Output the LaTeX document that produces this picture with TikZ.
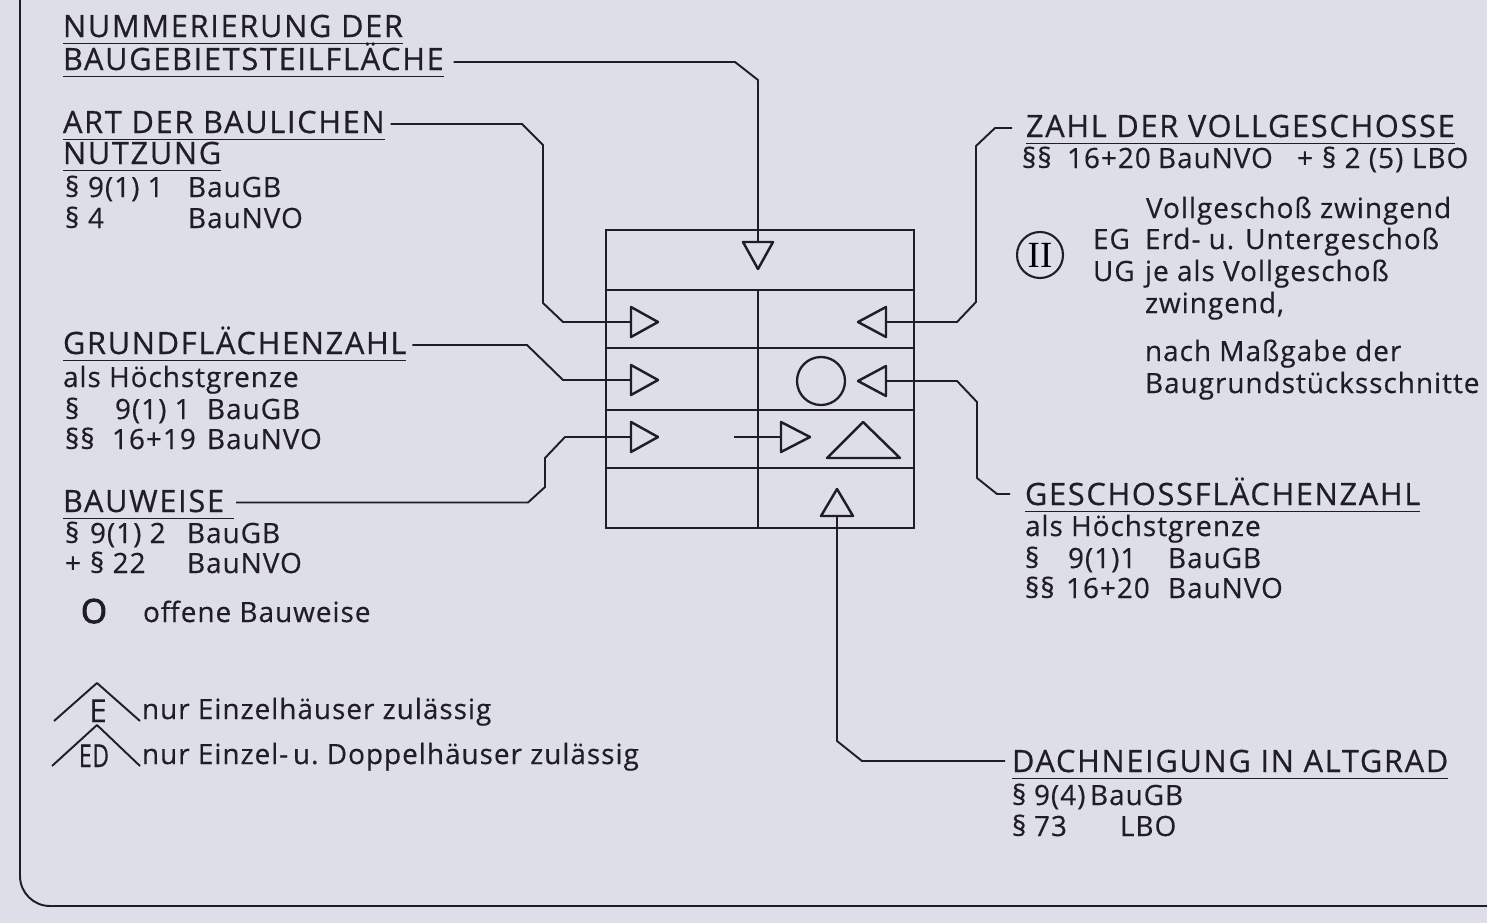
\documentclass[tikz,border=0pt]{standalone}
\usepackage{fontspec}
\setmainfont{Open Sans}[LetterSpace=3.5,FakeBold=0.4]
\newfontfamily\hfont{Open Sans}[LetterSpace=5.5,FakeBold=0.6]
\newfontfamily\oboldfont{Open Sans}[FakeBold=3]
\newfontfamily\romfont{Liberation Serif}
\definecolor{paper}{RGB}{222,222,232}
\definecolor{ink}{RGB}{30,30,36}
\newcommand\myul[1]{\draw[uline] ([yshift=-3.8pt]#1.base west) -- ([yshift=-3.8pt]#1.base east);}
\begin{document}
\begin{tikzpicture}[x=0.02cm,y=-0.02cm,
  txt/.style={anchor=base west,inner sep=0pt,outer sep=0pt,text=ink,font=\fontsize{15.9}{19}\selectfont},
  head/.style={txt,font=\fontsize{17.5}{20}\selectfont\hfont},
  conn/.style={draw=ink,line width=1.1pt,line join=round},
  boxline/.style={draw=ink,line width=1.6pt},
  tri/.style={draw=ink,line width=1.4pt,line join=round,fill=paper},
  uline/.style={draw=ink,line width=0.9pt}]
\fill[paper] (0,0) rectangle (1487,923);
\useasboundingbox (0,0) rectangle (1487,923);
% sheet border
\draw[ink,line width=1.1pt,rounded corners=0.6cm] (20,-5) -- (20,906) -- (1495,906);

% ---------- main box ----------
\draw[boxline] (606,230) rectangle (914,528);
\foreach \yy in {290,348,410,468} \draw[boxline] (606,\yy) -- (914,\yy);
\draw[boxline] (758,290) -- (758,528);

% triangle entry points
\coordinate (tTop) at (758,242);
\coordinate (tR2L) at (631,322);
\coordinate (tR3L) at (631,380);
\coordinate (tR4L) at (631,437);
\coordinate (tR4M) at (781,437);
\coordinate (tR2R) at (886,322);
\coordinate (tR3R) at (886,381);
\coordinate (tR5) at (837,516);
\coordinate (mStart) at (734,437);

% ---------- left texts ----------
\node[head] (hNum1) at (63,37) {NUMMERIERUNG DER};
\node[head] (hNum2) at (63,70) {BAUGEBIETSTEILFLÄCHE};
\myul{hNum1}\myul{hNum2}
\node[head] (hArt1) at (63,133) {ART DER BAULICHEN};
\node[head] (hArt2) at (63,164) {NUTZUNG};
\myul{hArt1}\myul{hArt2}
\node[txt] (a1) at (65,197) {§};
\node[txt] (a2) at (88,197) {9(1) 1};
\node[txt] (a3) at (188,197) {BauGB};
\node[txt] (a4) at (65,228) {§};
\node[txt] (a5) at (88,228) {4};
\node[txt] (a6) at (188,228) {BauNVO};

\node[head] (hGrz) at (63,354) {GRUNDFLÄCHENZAHL};
\myul{hGrz}
\node[txt] (g1) at (63,387) {als Höchstgrenze};
\node[txt] (g2) at (65,419) {§};
\node[txt] (g3) at (115,419) {9(1) 1};
\node[txt] (g4) at (207,419) {BauGB};
\node[txt] (g5) at (65,449) {§§};
\node[txt] (g6) at (112,449) {16+19};
\node[txt] (g7) at (207,449) {BauNVO};

\node[head] (hBw) at (63,512) {BAUWEISE};
\draw[uline] ([yshift=-3.8pt]hBw.base west) -- ([shift={(10,0)},yshift=-3.8pt]hBw.base east);
\node[txt] (b1) at (65,543) {§};
\node[txt] (b2) at (90,543) {9(1) 2};
\node[txt] (b3) at (187,543) {BauGB};
\node[txt] (b4) at (65,573) {+};
\node[txt] (b5) at (90,573) {§ 22};
\node[txt] (b6) at (187,573) {BauNVO};
\node[txt,font=\fontsize{19}{20}\selectfont\oboldfont] (b7) at (81,623) {O};
\node[txt] (b8) at (143,622) {offene Bauweise};

% E / ED symbols
\draw[conn] (54,721) -- (97,683) -- (140,721);
\node[txt,anchor=base,font=\fontsize{18}{18}\selectfont] (eE) at (98,722) {E};
\draw[conn] (52,766) -- (97,725) -- (140,766);
\node[txt,anchor=base,font=\fontsize{18}{18}\selectfont] (eED) at (94,767) {\scalebox{0.72}[1]{ED}};
\node[txt] (e1) at (142,719) {nur Einzelhäuser zulässig};
\node[txt] (e2) at (142,764) {nur Einzel-\,u.\ Doppelhäuser zulässig};

% ---------- right texts ----------
\node[head] (hZahl) at (1026,137) {ZAHL DER VOLLGESCHOSSE};
\myul{hZahl}
\node[txt] (z1) at (1022,168) {§§};
\node[txt] (z2) at (1067,168) {16+20};
\node[txt] (z3) at (1158,168) {BauNVO};
\node[txt] (z4) at (1297,168) {+};
\node[txt] (z5) at (1322,168) {§ 2 (5)};
\node[txt] (z6) at (1412,168) {LBO};
\node[circle,draw=ink,line width=1.2pt,minimum size=0.92cm,inner sep=0pt] (cII) at (1040,255) {\romfont\fontsize{21}{21}\selectfont II};
\node[txt] (v1) at (1146,218) {Vollgeschoß zwingend};
\node[txt] (v2) at (1093,249) {EG};
\node[txt] (v3) at (1145,249) {Erd- u. Untergeschoß};
\node[txt] (v4) at (1093,281) {UG};
\node[txt] (v5) at (1145,281) {je als Vollgeschoß};
\node[txt] (v6) at (1145,313) {zwingend,};
\node[txt] (v7) at (1145,361) {nach Maßgabe der};
\node[txt] (v8) at (1145,393) {Baugrundstücksschnitte};

\node[head] (hGfz) at (1025,505) {GESCHOSSFLÄCHENZAHL};
\myul{hGfz}
\node[txt] (f1) at (1025,536) {als Höchstgrenze};
\node[txt] (f2) at (1025,568) {§};
\node[txt] (f3) at (1068,568) {9(1)1};
\node[txt] (f4) at (1168,568) {BauGB};
\node[txt] (f5) at (1025,598) {§§};
\node[txt] (f6) at (1066,598) {16+20};
\node[txt] (f7) at (1168,598) {BauNVO};

\node[head] (hDach) at (1012,772) {DACHNEIGUNG IN ALTGRAD};
\myul{hDach}
\node[txt] (d1) at (1012,805) {§};
\node[txt] (d2) at (1034,805) {9(4)};
\node[txt] (d3) at (1090,805) {BauGB};
\node[txt] (d4) at (1012,836) {§};
\node[txt] (d5) at (1034,836) {73};
\node[txt] (d6) at (1120,836) {LBO};

% ---------- connectors ----------
\draw[conn] ([shift={(10,-8)}]hNum2.base east) -- (735,62) -- (758,80) -- (tTop);
\draw[conn] ([shift={(6,-9)}]hArt1.base east) -- (522,124) -- (543,145) -- (543,303) -- (563,322) -- (tR2L);
\draw[conn] ([shift={(6,-9)}]hGrz.base east) -- (527,345) -- (563,380) -- (tR3L);
\draw[conn] ([shift={(12,-9.5)}]hBw.base east) -- (528,502.5) -- (545,487) -- (545,458) -- (565,437) -- (tR4L);
\draw[conn] ([shift={(-14,-9)}]hZahl.base west) -- (995,128) -- (976,146) -- (976,302) -- (957,322) -- (tR2R);
\draw[conn] ([shift={(-15,-11)}]hGfz.base west) -- (997,494) -- (977,478) -- (977,402) -- (957,381) -- (tR3R);
\draw[conn] ([shift={(-7,-11)}]hDach.base west) -- (862,761) -- (837,741) -- (tR5);
\draw[conn] (mStart) -- (tR4M);

% ---------- symbols in box ----------
\draw[tri] (743,242) -- (773,242) -- (758,269) -- cycle;
\draw[tri] (631,307) -- (658,322) -- (631,337) -- cycle;
\draw[tri] (631,365) -- (658,380) -- (631,395) -- cycle;
\draw[tri] (631,422) -- (658,437) -- (631,452) -- cycle;
\draw[tri] (781,422) -- (810,437) -- (781,452) -- cycle;
\draw[tri] (886,307) -- (858,322) -- (886,337) -- cycle;
\draw[tri] (886,366) -- (858,381) -- (886,396) -- cycle;
\draw[ink,line width=1.3pt] (821,381) circle[radius=0.48cm];
\draw[tri] (827,458) -- (900,458) -- (863,422) -- cycle;
\draw[tri] (821,516) -- (853,516) -- (837,489) -- cycle;
\end{tikzpicture}
\end{document}
